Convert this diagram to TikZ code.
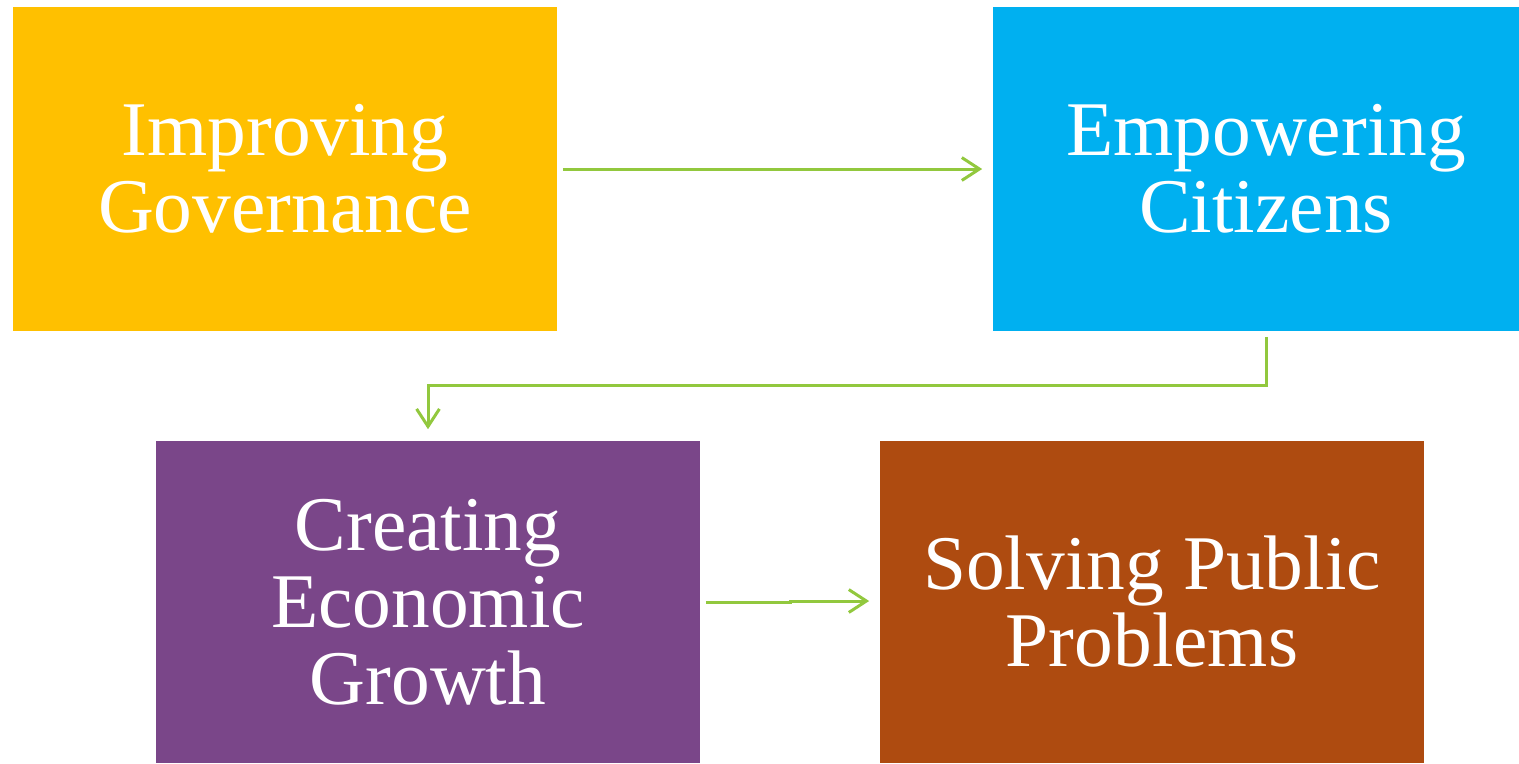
\documentclass[tikz,border=0pt]{standalone}
\usepackage{fontspec}
\setmainfont{Liberation Serif}
\usetikzlibrary{arrows.meta}

\definecolor{govyellow}{HTML}{FFC000}
\definecolor{citblue}{HTML}{00B0F0}
\definecolor{ecopurple}{HTML}{7A4689}
\definecolor{pubbrown}{HTML}{AE4B10}
\definecolor{linkgreen}{HTML}{92C83E}

\begin{document}
\begin{tikzpicture}[x=0.01cm,y=-0.01cm,
  box/.style={inner sep=0pt,minimum width=5.44cm,minimum height=3.24cm,
    align=center,text=white,font=\fontsize{22}{21.9}\selectfont},
  link/.style={draw=linkgreen,line width=0.85pt,
    -{Straight Barb[length=5pt,width=6.5pt,line width=0.85pt]}}]

\useasboundingbox (0,0) rectangle (1519,763);

\node[box,fill=govyellow] (gov) at (285,169) {Improving\\Governance};
\node[box,fill=citblue,minimum width=5.26cm] (cit) at (1256,169)
  {\hspace*{0.2cm}Empowering\\\hspace*{0.2cm}Citizens};
\node[box,fill=ecopurple,minimum height=3.22cm] (eco) at (428,602) {Creating\\Economic\\Growth};
\node[box,fill=pubbrown,minimum height=3.22cm] (pub) at (1152,602) {Solving Public\\Problems};

\draw[link,shorten <=0.05cm,shorten >=0.1cm] (gov.east) -- (cit.west);
\draw[link,shorten <=0.05cm,shorten >=0.11cm] ([xshift=0.1cm]cit.south) -- ++(0,54) -| (eco.north);
\coordinate (mid) at (790,601);
\draw[link,shorten <=0.05cm,shorten >=0.1cm] (eco.east) -- (eco.east -| mid) -- (mid) -- (mid -| pub.west);

\end{tikzpicture}
\end{document}
